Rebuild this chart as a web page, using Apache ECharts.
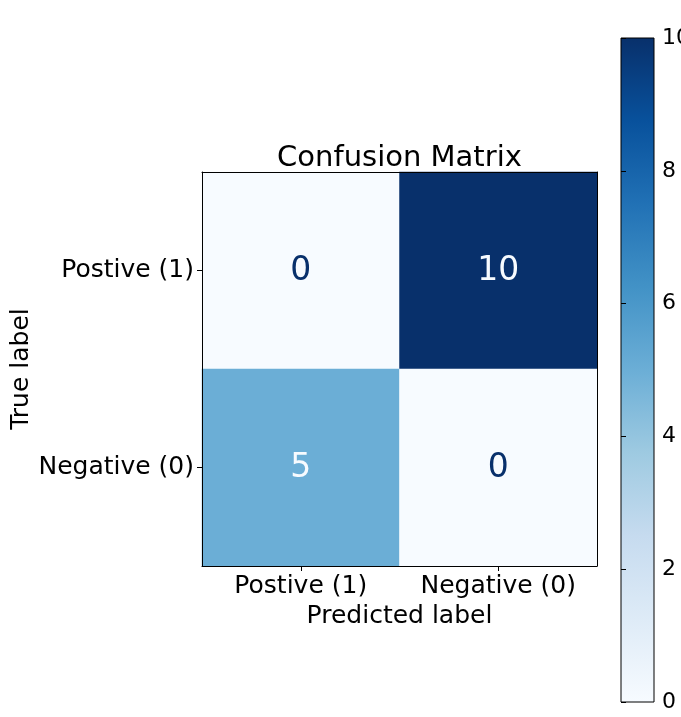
<!DOCTYPE html>
<html>
<head>
<meta charset="utf-8">
<script src="https://cdn.jsdelivr.net/npm/echarts@6/dist/echarts.min.js"></script>
<style>html,body{margin:0;padding:0;background:#fff;}#c{width:681px;height:717px;}</style>
</head>
<body>
<div id="c"></div>
<script>
const predictedLabels = ['Postive (1)', 'Negative (0)'];
const trueLabels = ['Postive (1)', 'Negative (0)'];
// rows = true label, columns = predicted label
const matrixRows = [[0, 10], [5, 0]];
const colorbarTicks = [0, 2, 4, 6, 8, 10];
const blues = ['#f7fbff','#deebf7','#c6dbef','#9ecae1','#6baed6','#4292c6','#2171b5','#08519c','#08306b'];

const FONT = 'DejaVu Sans';
const vMin = colorbarTicks[0], vMax = colorbarTicks[colorbarTicks.length - 1];
const thresh = (vMin + vMax) / 2;
const heatData = [];
matrixRows.forEach((row, yi) => row.forEach((v, xi) => {
  heatData.push({ value: [xi, yi, v], label: { color: v < thresh ? blues[8] : blues[0] } });
}));

const chart = echarts.init(document.getElementById('c'), null, { renderer: 'canvas' });
chart.setOption({
  animation: false,
  textStyle: { fontFamily: FONT },
  title: {
    text: 'Confusion Matrix', left: 399.5, top: 144, textAlign: 'center', padding: 0,
    textStyle: { fontFamily: FONT, fontSize: 29, fontWeight: 'normal', color: '#000' }
  },
  grid: [
    { left: 202, right: 84, top: 172, bottom: 151, containLabel: false, outerBoundsMode: 'none' },
    { left: 621, right: 27, top: 38, bottom: 15, containLabel: false, outerBoundsMode: 'none' }
  ],
  xAxis: [
    {
      type: 'category', gridIndex: 0, data: predictedLabels, z: 10,
      name: 'Predicted label', nameLocation: 'middle', nameGap: 38, nameMoveOverlap: false,
      nameTextStyle: { fontFamily: FONT, fontSize: 25, color: '#000' },
      axisLine: { show: true, lineStyle: { color: '#000', width: 1 } },
      axisTick: { show: true, alignWithLabel: true, length: 5, lineStyle: { color: '#000' } },
      axisLabel: { fontFamily: FONT, fontSize: 25, color: '#000', margin: 8, interval: 0, hideOverlap: false },
      splitLine: { show: false }
    },
    {
      type: 'category', gridIndex: 0, data: predictedLabels, position: 'top', z: 10,
      axisLine: { show: true, lineStyle: { color: '#000', width: 1 } },
      axisTick: { show: false }, axisLabel: { show: false }, splitLine: { show: false }
    },
    { type: 'value', gridIndex: 1, min: 0, max: 1, show: false }
  ],
  yAxis: [
    {
      type: 'category', gridIndex: 0, data: trueLabels, inverse: true, z: 10,
      name: 'True label', nameLocation: 'middle', nameGap: 168, nameRotate: 90, nameMoveOverlap: false,
      nameTextStyle: { fontFamily: FONT, fontSize: 25, color: '#000' },
      axisLine: { show: true, lineStyle: { color: '#000', width: 1 } },
      axisTick: { show: true, alignWithLabel: true, length: 5, lineStyle: { color: '#000' } },
      axisLabel: { fontFamily: FONT, fontSize: 25, color: '#000', margin: 8, interval: 0, hideOverlap: false },
      splitLine: { show: false }
    },
    {
      type: 'category', gridIndex: 0, data: trueLabels, inverse: true, position: 'right', z: 10,
      axisLine: { show: true, lineStyle: { color: '#000', width: 1 } },
      axisTick: { show: false }, axisLabel: { show: false }, splitLine: { show: false }
    },
    {
      type: 'value', gridIndex: 1, min: vMin, max: vMax, interval: 2, position: 'right', z: 10,
      axisLine: { show: false },
      axisTick: { show: true, length: 5, lineStyle: { color: '#000' } },
      axisLabel: { fontFamily: FONT, fontSize: 22, color: '#000', margin: 8, hideOverlap: false },
      splitLine: { show: false }
    }
  ],
  visualMap: {
    show: false, type: 'continuous', min: vMin, max: vMax, seriesIndex: 0, dimension: 2,
    inRange: { color: blues }
  },
  series: [
    {
      type: 'heatmap', xAxisIndex: 0, yAxisIndex: 0, data: heatData,
      itemStyle: { borderWidth: 0 },
      label: { show: true, fontFamily: FONT, fontSize: 33, offset: [0, 1] },
      emphasis: { disabled: true }
    },
    {
      type: 'custom', xAxisIndex: 2, yAxisIndex: 2, data: [[0, vMin, 1, vMax]], silent: true,
      renderItem: function (params, api) {
        const p0 = api.coord([api.value(0), api.value(1)]);
        const p1 = api.coord([api.value(2), api.value(3)]);
        const stops = blues.map((c, i) => ({ offset: 1 - i / (blues.length - 1), color: c }));
        return {
          type: 'rect',
          shape: { x: p0[0], y: p1[1], width: p1[0] - p0[0], height: p0[1] - p1[1] },
          style: {
            fill: new echarts.graphic.LinearGradient(0, 0, 0, 1, stops.slice().reverse()),
            stroke: '#000', lineWidth: 1
          }
        };
      }
    }
  ]
});
</script>
</body>
</html>
